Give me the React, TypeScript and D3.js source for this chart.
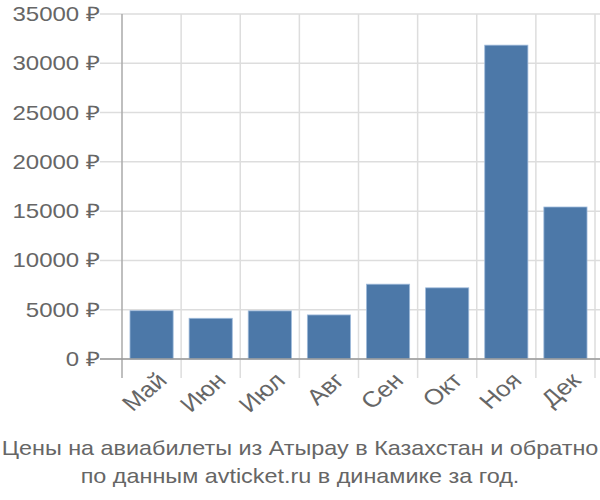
import { useMemo } from "react";
import * as d3 from "d3";

const months = ["Май", "Июн", "Июл", "Авг", "Сен", "Окт", "Ноя", "Дек"];
const prices = [4900, 4130, 4880, 4470, 7590, 7220, 31840, 15420];
const yTicks = [0, 5000, 10000, 15000, 20000, 25000, 30000, 35000];
const titleLines = [
  "Цены на авиабилеты из Атырау в Казахстан и обратно",
  "по данным avticket.ru в динамике за год.",
];

const W = 600;
const H = 500;
const m = { top: 14, right: 5, bottom: 141, left: 122 };
// the reference text looks a little stretched sideways
const SX = 1.17;

export default function App() {
  const x = useMemo(
    () => d3.scaleBand<string>().domain(months).range([m.left, W - m.right]).paddingInner(0.27).paddingOuter(0.135),
    []
  );
  const y = useMemo(() => d3.scaleLinear().domain([0, 35000]).range([H - m.bottom, m.top]), []);
  const step = x.step();
  const bounds = d3.range(months.length + 1).map((i) => m.left + i * step);
  const font = "'Liberation Sans', Arial, sans-serif";

  return (
    <svg width={W} height={H} style={{ position: "absolute", left: 0, top: 0 }} fontFamily={font}>
      {/* horizontal grid + y labels */}
      {yTicks.map((t) => (
        <g key={t}>
          <line x1={100} x2={W} y1={y(t)} y2={y(t)} stroke="#dddddd" strokeWidth={1.5} />
          <text
            transform={`translate(100,${y(t)}) scale(1.2,1)`}
            dy="0.35em"
            textAnchor="end"
            fontSize={20}
            fill="#666"
          >
            {t} ₽
          </text>
        </g>
      ))}
      {/* vertical grid */}
      {bounds.map((b, i) => (
        <line key={i} x1={b} x2={b} y1={m.top} y2={y(0) + 19} stroke={i === 0 ? "#aaaaaa" : "#dddddd"} strokeWidth={1.5} />
      ))}
      {/* bars */}
      {months.map((mo, i) => (
        <rect
          key={mo}
          x={x(mo)}
          y={y(prices[i])}
          width={x.bandwidth()}
          height={y(0) - y(prices[i])}
          fill="#4c78a8"
          stroke="#9fbbdb"
          strokeWidth={0.8}
        />
      ))}
      <line x1={100} x2={W} y1={y(0)} y2={y(0)} stroke="#999" strokeWidth={1.5} />
      {/* x labels */}
      {months.map((mo) => {
        const cx = (x(mo) ?? 0) + x.bandwidth() / 2 + 4;
        const cy = y(0) + 12;
        return (
          <text
            key={mo}
            transform={`translate(${cx},${cy}) scale(${SX},1) rotate(-45)`}
            textAnchor="end"
            dy="0.7em"
            fontSize={22}
            fill="#666"
          >
            {mo}
          </text>
        );
      })}
      {titleLines.map((l, i) => (
        <text
          key={i}
          transform={`translate(${W / 2},${455 + i * 28}) scale(${SX},1)`}
          textAnchor="middle"
          fontSize={20}
          fill="#666"
        >
          {l}
        </text>
      ))}
    </svg>
  );
}
